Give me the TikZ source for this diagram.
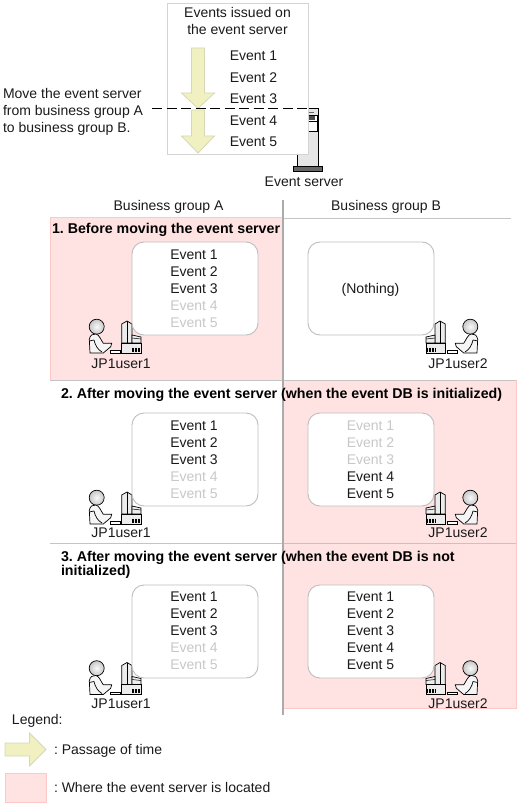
\documentclass[tikz,border=0pt]{standalone}
\usepackage{fontspec}
\setmainfont{Liberation Sans}
\frenchspacing
\definecolor{pinkfill}{HTML}{FFE2E2}
\definecolor{pinkline}{HTML}{FFC8C8}
\definecolor{yellowfill}{HTML}{F0F0C0}
\definecolor{yellowline}{HTML}{D8D8B8}
\definecolor{panelline}{HTML}{D4D4D4}
\definecolor{boxline}{HTML}{BEBEBE}
\definecolor{ruleline}{HTML}{C4C4C4}
\definecolor{divider}{HTML}{ABABAB}
\definecolor{faded}{HTML}{C8C8C8}
\definecolor{evt}{HTML}{1A1A1A}
\definecolor{serverfill}{HTML}{E6E6E6}
\tikzset{
  x=1pt,y=-1pt,
  lbl/.style={inner sep=0pt,outer sep=0pt,anchor=base,font=\fontsize{14}{14}\selectfont,text=evt},
  lblleft/.style={lbl,anchor=base west},
  ttl/.style={lblleft,font=\fontsize{14.2}{14}\selectfont\bfseries,text=black},
  off/.style={lbl,text=faded},
  pinkarea/.style={fill=pinkfill,draw=pinkline,line width=0.8pt},
  evbox/.style={draw=boxline,fill=white,rounded corners=12pt,line width=0.9pt},
  timearrow/.style={fill=yellowfill,draw=yellowline,line width=0.8pt},
  rulegray/.style={draw=ruleline,line width=1pt},
  pics/jpuser/.style={code={
    \shade[inner color=white!95!gray,outer color=black!22,draw=black,line width=0.7pt] (-44.3,-26.3) circle (7.5);
    \draw[fill=white!92!gray,line width=0.7pt] (-51,0) -- (-51.7,-13.7) .. controls (-51,-18) and (-48,-19.5) .. (-45,-19) .. controls (-42,-18.5) and (-40,-13) .. (-37.7,-9.7) -- (-29.3,-9.7) -- (-30.3,-6.3) -- (-37.7,0) -- cycle;
    \draw[line width=0.7pt] (-47,-13) .. controls (-46,-8) and (-43,-3) .. (-39,-1) ;
    \draw[line width=0.7pt] (-51.7,-12) -- (-47,-13);
    \draw[fill=white,line width=0.7pt] (-31,-2.3) rectangle (-21,0);
    \draw[fill=white!85!gray,line width=0.7pt] (-19.3,-29) -- (-14,-32) -- (-9,-29) -- (-9,-10) -- (-19.3,-10) -- cycle;
    \draw[line width=0.7pt] (-14,-32) -- (-14,-10);
    \draw[fill=white!85!gray,line width=0.7pt] (-9,-18) -- (0,-16) -- (0,-10) -- (-9,-10) -- cycle;
    \draw[line width=0.5pt] (-9,-15) -- (0,-14);
    \draw[fill=white!85!gray,line width=0.7pt] (-19.3,-9.7) rectangle (0,0);
    \foreach \vx in {-9,-7.5,-6,-4.5,-3,-1.5} \draw[line width=0.6pt] (\vx,-5.5) -- (\vx,-1.5);
  }}
}
\begin{document}
\begin{tikzpicture}
\useasboundingbox (0,0) rectangle (520,805);
% server behind the panel
\path[draw=black,fill=serverfill,line width=0.8pt] (297,166) -- (297,108.5) -- (318.5,108.5) -- (318.5,166);
\draw[fill=white,line width=0.7pt] (306,115) rectangle (317,121);
\fill[black!70] (306,116) rectangle (315,120);
\draw[fill=white,line width=0.7pt] (306,121) rectangle (317,131);
\draw[black!60,line width=0.6pt] (308,112) -- (314,112);
\fill[black!60,draw=black,line width=0.4pt] (293.5,166) rectangle (322.5,171);
\node[lbl] (serverlabel) at (304,186) {Event server};
% top panel
\node[draw=panelline,fill=white,line width=1pt,inner sep=0pt,minimum width=141pt,minimum height=151pt,anchor=north west] (panel) at (167,3) {};
\node[lbl] (t1) at (237.5,18) {Events issued on};
\node[lbl] (t2) at (237.5,35) {the event server};
\draw[timearrow] (191.5,48) -- (204.5,48) -- (204.5,93) -- (214.5,93) -- (198,108.5) -- (181.5,93) -- (191.5,93) -- cycle;
\draw[timearrow] (191.5,110) -- (204.5,110) -- (204.5,136) -- (214.5,136) -- (198,153) -- (181.5,136) -- (191.5,136) -- cycle;
\foreach \n/\ty/\tx in {a/60.5/Event 1,b/82.5/Event 2,c/103.5/Event 3,d/125.5/Event 4,e/146.5/Event 5}
  \node[lbl] (top\n) at (253.5,\ty) {\tx};
\coordinate (cutL) at (152,109);
\coordinate (cutR) at (307,109);
\draw[black,line width=1pt,dash pattern=on 10pt off 4.5pt] (cutL) -- (cutR);
\node[lblleft] (m1) at (3,98.5) {Move the event server};
\node[lblleft] (m2) at (3,115.5) {from business group A};
\node[lblleft] (m3) at (3,132.5) {to business group B.};
% headers
\node[lbl] (ga) at (168.5,211) {Business group A};
\node[lbl] (gb) at (386,211) {Business group B};
% location areas
\path[pinkarea] (50,217.5) rectangle (283,380);
\path[pinkarea] (283,380) rectangle (516,543);
\path[pinkarea] (283,543) rectangle (516,708);
% rules
\draw[rulegray] (283,218) -- (511,218);
\draw[rulegray] (50,380) -- (516,380);
\draw[rulegray] (50,543) -- (516,543);
% divider
\draw[divider,line width=2.4pt] (283,200) -- (283,715);
% titles
\node[ttl] (h1) at (52,233) {1. Before moving the event server};
\node[ttl] (h2) at (61,398) {2. After moving the event server (when the event DB is initialized)};
\node[ttl] (h3) at (61,561) {3. After moving the event server (when the event DB is not};
\node[ttl] (h3b) at (61,575) {initialized)};
% users
\path (141,353) pic {jpuser};
\path (426,353) pic[xscale=-1] {jpuser};
\path (141,524) pic {jpuser};
\path (426,524) pic[xscale=-1] {jpuser};
\path (141,694.5) pic {jpuser};
\path (426,694.5) pic[xscale=-1] {jpuser};
\node[lbl] (ua1) at (121,368) {JP1user1};
\node[lbl] (ub1) at (458,368) {JP1user2};
\node[lbl] (ua2) at (121,537.5) {JP1user1};
\node[lbl] (ub2) at (458,537.5) {JP1user2};
\node[lbl] (ua3) at (121,708) {JP1user1};
\node[lbl] (ub3) at (458,708) {JP1user2};
% event boxes
\draw[evbox] (132,242) rectangle (258,335);
\draw[evbox] (308,242) rectangle (434,335);
\draw[evbox] (132,413) rectangle (258,506);
\draw[evbox] (308,413) rectangle (434,506);
\draw[evbox] (132,585) rectangle (258,678);
\draw[evbox] (308,585) rectangle (434,678);
% row 1
\node[lbl] (a11) at (194,259) {Event 1};
\node[lbl] (a12) at (194,276) {Event 2};
\node[lbl] (a13) at (194,293) {Event 3};
\node[off] (a14) at (194,310) {Event 4};
\node[off] (a15) at (194,327) {Event 5};
\node[lbl] (nothing) at (370.5,293) {(Nothing)};
% row 2
\node[lbl] (a21) at (194,430) {Event 1};
\node[lbl] (a22) at (194,447) {Event 2};
\node[lbl] (a23) at (194,464) {Event 3};
\node[off] (a24) at (194,481) {Event 4};
\node[off] (a25) at (194,498) {Event 5};
\node[off] (b21) at (370.5,430) {Event 1};
\node[off] (b22) at (370.5,447) {Event 2};
\node[off] (b23) at (370.5,464) {Event 3};
\node[lbl] (b24) at (370.5,481) {Event 4};
\node[lbl] (b25) at (370.5,498) {Event 5};
% row 3
\node[lbl] (a31) at (194,601) {Event 1};
\node[lbl] (a32) at (194,618) {Event 2};
\node[lbl] (a33) at (194,635) {Event 3};
\node[off] (a34) at (194,652) {Event 4};
\node[off] (a35) at (194,669) {Event 5};
\node[lbl] (b31) at (370.5,601) {Event 1};
\node[lbl] (b32) at (370.5,618) {Event 2};
\node[lbl] (b33) at (370.5,635) {Event 3};
\node[lbl] (b34) at (370.5,652) {Event 4};
\node[lbl] (b35) at (370.5,669) {Event 5};
% legend
\node[lblleft] (leg) at (12,724) {Legend:};
\draw[timearrow] (5,743) -- (29.5,743) -- (29.5,733) -- (46,749.5) -- (29.5,766) -- (29.5,756) -- (5,756) -- cycle;
\node[lblleft] (leg1) at (54,754) {: Passage of time};
\path[pinkarea] (5.5,773.5) rectangle (46,802.5);
\node[lblleft] (leg2) at (54,792) {: Where the event server is located};
\end{tikzpicture}
\end{document}
